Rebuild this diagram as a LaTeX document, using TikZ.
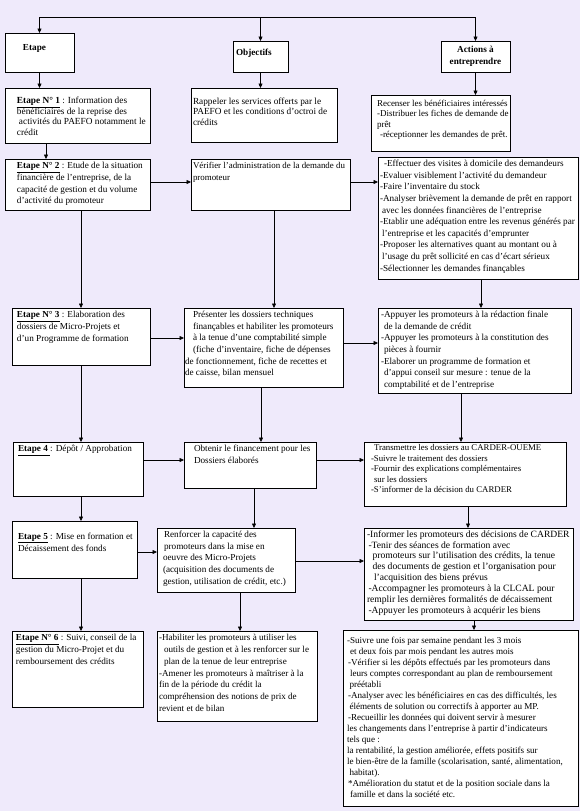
\documentclass[tikz,border=0pt]{standalone}
\usepackage{fontspec}
\setmainfont{Liberation Serif}
\usetikzlibrary{arrows.meta,shadows,calc}
\definecolor{lavande}{RGB}{239,234,251}
% texte d'une boite : marge gauche, largeur, hauteur, lignes
\newcommand{\boite}[4][2pt]{\parbox[c][#3][t]{#2}{\vspace*{1.5pt}\begin{tabular}[t]{@{\hspace{#1}}l@{}}#4\end{tabular}}}

\begin{document}
\begin{tikzpicture}[x=1pt,y=-1pt,
  box/.style={draw,line width=0.6pt,fill=white,inner sep=0pt,outer sep=0pt,anchor=north west,
    font=\fontsize{9.2}{11.6}\selectfont,
    drop shadow={shadow xshift=0.8pt,shadow yshift=-0.8pt,fill=black!60,opacity=0.7}},
  arr/.style={line width=0.6pt,-{Triangle[length=4.5pt,width=4pt]}}]
\fill[lavande] (0,0) rectangle (580,811);

% en-tetes
\node[box] (hEtape) at (5,33) {\boite[18pt]{69pt}{39pt}{\rule{0pt}{16pt}\textbf{Etape}}};
\node[box] (hObj) at (233,41) {\boite[3pt]{55pt}{31pt}{\rule{0pt}{13pt}\textbf{Objectifs}}};
\node[box,minimum width=69pt,minimum height=31pt,align=center] (hAct) at (441,41) {\textbf{Actions à}\\\textbf{entreprendre}};
\coordinate (top) at ([yshift=24pt]hObj.north);

% ligne 1
\node[box,font=\fontsize{9.3}{10.3}\selectfont] (e1) at (5,88) {\boite[12pt]{145pt}{55pt}{\rule{0pt}{14pt}\underline{\textbf{Etape N° 1}} : Information des\\
  bénéficiaires de la reprise des\\ \hspace{2pt}activités du PAEFO notamment le\\ crédit}};
\node[box,font=\fontsize{9.3}{10.3}\selectfont] (o1) at (191,88) {\boite{146pt}{54pt}{\rule{0pt}{15pt}Rappeler les services offerts par le\\
  PAEFO et les conditions d’octroi de\\ crédits}};
\node[box,font=\fontsize{9}{10.3}\selectfont] (a1) at (371,95) {\boite[6pt]{139pt}{56pt}{\rule{0pt}{10pt}Recenser les bénéficiaires intéressés\\
  -Distribuer les fiches de demande de\\ prêt\\ \hspace{3pt}-réceptionner les demandes de prêt.}};

% ligne 2
\node[box] (e2) at (5,159) {\boite[12pt]{145pt}{51pt}{\underline{\textbf{Etape N° 2}} : Etude de la situation\\
  financière de l’entreprise, de la\\ capacité de gestion et du volume\\ d’activité du promoteur}};
\node[box,font=\fontsize{8.9}{11.6}\selectfont] (o2) at (191,159) {\boite{159pt}{51pt}{Vérifier l’administration de la demande du\\ promoteur}};
\node[box] (a2) at (378,157) {\boite{200pt}{122pt}{\hspace{4pt}-Effectuer des visites à domicile des demandeurs\\
  -Evaluer visiblement l’activité du demandeur\\
  -Faire l’inventaire du stock\\
  -Analyser brièvement la demande de prêt en rapport\\
  \hspace{2pt}avec les données financières de l’entreprise\\
  -Etablir une adéquation entre les revenus générés par\\
  \hspace{2pt}l’entreprise et les capacités d’emprunter\\
  -Proposer les alternatives quant au montant ou à\\
  \hspace{2pt}l’usage du prêt sollicité en cas d’écart sérieux\\
  -Sélectionner les demandes finançables}};

% ligne 3
\node[box] (e3) at (12,308) {\boite[5pt]{138pt}{57pt}{\underline{\textbf{Etape N° 3}} : Elaboration des\\
  dossiers de Micro-Projets et\\ d’un Programme de formation}};
\node[box] (o3) at (184,308) {\boite[1pt]{159pt}{79pt}{\hspace{8pt}Présenter les dossiers techniques\\
  \hspace{8pt}finançables et habiliter les promoteurs\\
  \hspace{8pt}à la tenue d’une comptabilité simple\\
  \hspace{8pt}(fiche d’inventaire, fiche de dépenses\\
  de fonctionnement, fiche de recettes et\\ de caisse, bilan mensuel}};
\node[box] (a3) at (378,308) {\boite[3pt]{193pt}{85pt}{-Appuyer les promoteurs à la rédaction finale\\
  \hspace{3pt}de la demande de crédit\\
  -Appuyer les promoteurs à la constitution des\\
  \hspace{3pt}pièces à fournir\\
  -Elaborer un programme de formation et\\
  \hspace{3pt}d’appui conseil sur mesure : tenue de la\\
  \hspace{3pt}comptabilité et de l’entreprise}};

% ligne 4
\node[box] (e4) at (13,442) {\boite[5pt]{130pt}{54pt}{\underline{\textbf{Etape 4 }}: Dépôt / Approbation}};
\node[box] (o4) at (184,442) {\boite[10pt]{132pt}{46pt}{Obtenir le financement pour les\\ Dossiers élaborés}};
\node[box,font=\fontsize{8.8}{10.5}\selectfont] (a4) at (364,442) {\boite[7pt]{202pt}{64pt}{\hspace{3pt}Transmettre les dossiers au CARDER-OUEME\\
  -Suivre le traitement des dossiers\\
  -Fournir des explications complémentaires\\
  \hspace{3pt}sur les dossiers\\
  -S’informer de la décision du CARDER}};

% ligne 5
\node[box] (e5) at (12,521) {\boite[6pt]{125pt}{57pt}{\rule{0pt}{16.5pt}\underline{\textbf{Etape 5}} : Mise en formation et\\
  Décaissement des fonds}};
\node[box] (o5) at (157,528) {\boite[6pt]{138pt}{64pt}{\hspace{1pt}Renforcer la capacité des\\
  \hspace{1pt}promoteurs dans la mise en\\
  oeuvre des Micro-Projets\\
  (acquisition des documents de\\
  gestion, utilisation de crédit, etc.)}};
\node[box,font=\fontsize{9.6}{10.9}\selectfont] (a5) at (364,528) {\boite[3pt]{209pt}{92pt}{-Informer les promoteurs des décisions de CARDER\\
  \hspace{1.5pt}-Tenir des séances de formation avec\\
  \hspace{5.5pt}promoteurs sur l’utilisation des crédits, la tenue\\
  \hspace{5.5pt}des documents de gestion et l’organisation pour\\
  \hspace{7pt}l’acquisition des biens prévus\\
  \hspace{1.5pt}-Accompagner les promoteurs à la CLCAL pour\\
  remplir les dernières formalités de décaissement\\
  \hspace{1.5pt}-Appuyer les promoteurs à acquérir les biens}};

% ligne 6
\node[box] (e6) at (12,631) {\boite[4pt]{131pt}{76pt}{\underline{\textbf{Etape N° 6}} : Suivi, conseil de la\\
  gestion du Micro-Projet et du\\ remboursement des crédits}};
\node[box,font=\fontsize{9.1}{11.8}\selectfont] (o6) at (157,631) {\boite{160pt}{90pt}{-Habiliter les promoteurs à utiliser les\\
  \hspace{5pt}outils de gestion et à les renforcer sur le\\
  \hspace{5pt}plan de la tenue de leur entreprise\\
  -Amener les promoteurs à maîtriser à la\\
  fin de la période du crédit la\\
  compréhension des notions de prix de\\
  revient et de bilan}};
\node[box,font=\fontsize{9.1}{11}\selectfont] (a6) at (343,630) {\boite[4pt]{235pt}{176pt}{\rule{0pt}{12pt}-Suivre une fois par semaine pendant les 3 mois\\
  \hspace{3pt}et deux fois par mois pendant les autres mois\\
  \hspace{1pt}-Vérifier si les dépôts effectués par les promoteurs dans\\
  \hspace{3pt}leurs comptes correspondant au plan de remboursement\\
  \hspace{2.5pt}préétabli\\
  \hspace{1pt}-Analyser avec les bénéficiaires en cas des difficultés, les\\
  \hspace{2.5pt}éléments de solution ou correctifs à apporter au MP.\\
  \hspace{1pt}-Recueillir les données qui doivent servir à mesurer\\
  les changements dans l’entreprise à partir d’indicateurs\\
  tels que :\\
  *la rentabilité, la gestion améliorée, effets positifs sur\\
  le bien-être de la famille (scolarisation, santé, alimentation,\\
  \hspace{2.5pt}habitat).\\
  \hspace{1pt}*Amélioration du statut et de la position sociale dans la\\
  \hspace{3pt}famille et dans la société etc.}};

% fleches
\draw[arr] (top) -| (hEtape.north);
\draw[arr] (top) -- (hObj.north);
\draw[arr] (top) -| (hAct.north);
\draw[arr] (hEtape.south) -- (hEtape.south |- e1.north);
\draw[arr] (hObj.south) -- (hObj.south |- o1.north);
\draw[arr] (hAct.south) -- (hAct.south |- a1.north);
\draw[arr] ($(e1.south west)+(41,0)$) -- ($(e1.south west |- e2.north)+(41,0)$);

\draw[arr] ($(e2.north east)+(0,23)$) -- ($(o2.west |- e2.north east)+(0,23)$);
\draw[arr] ($(o2.north east)+(0,23)$) -- ($(a2.west |- o2.north east)+(0,23)$);
\draw[arr] ($(e2.south west)+(76,0)$) -- ($(e2.south west |- e3.north)+(76,0)$);
\draw[arr] ($(o2.south west)+(83,0)$) -- ($(o2.south west |- o3.north)+(83,0)$);
\draw[arr] ($(a2.south west)+(103,0)$) -- ($(a2.south west |- a3.north)+(103,0)$);

\draw[arr] ($(e3.north east)+(0,30)$) -- ($(o3.west |- e3.north east)+(0,30)$);
\draw[arr] ($(o3.north east)+(0,35)$) -- ($(a3.west |- o3.north east)+(0,35)$);
\draw[arr] ($(e3.south west)+(69,0)$) -- ($(e3.south west |- e4.north)+(69,0)$);
\draw[arr] ($(o3.south west)+(77,0)$) -- ($(o3.south west |- o4.north)+(77,0)$);
\draw[arr] ($(a3.south west)+(83,0)$) -- ($(a3.south west |- a4.north)+(83,0)$);

\draw[arr] ($(e4.north east)+(0,18)$) -- ($(o4.west |- e4.north east)+(0,18)$);
\draw[arr] ($(o4.north east)+(0,18)$) -- ($(a4.west |- o4.north east)+(0,18)$);
\draw[arr] ($(e4.south west)+(68,0)$) -- ($(e4.south west |- e5.north)+(68,0)$);
\draw[arr] ($(o4.south west)+(70,0)$) -- ($(o4.south west |- o5.north)+(70,0)$);
\draw[arr] ($(a4.south west)+(104,0)$) -- ($(a4.south west |- a5.north)+(104,0)$);

\draw[arr] ($(e5.north east)+(0,31)$) -- ($(o5.west |- e5.north east)+(0,31)$);
\draw[arr] ($(o5.north east)+(0,33)$) -- ($(a5.west |- o5.north east)+(0,33)$);
\draw[arr] ($(e5.south west)+(69,0)$) -- ($(e5.south west |- e6.north)+(69,0)$);
\draw[arr] ($(o5.south west)+(83,0)$) -- ($(o5.south west |- o6.north)+(83,0)$);
\draw[arr] ($(a5.south west)+(110,0)$) -- ($(a5.south west |- a6.north)+(110,0)$);
\end{tikzpicture}
\end{document}
